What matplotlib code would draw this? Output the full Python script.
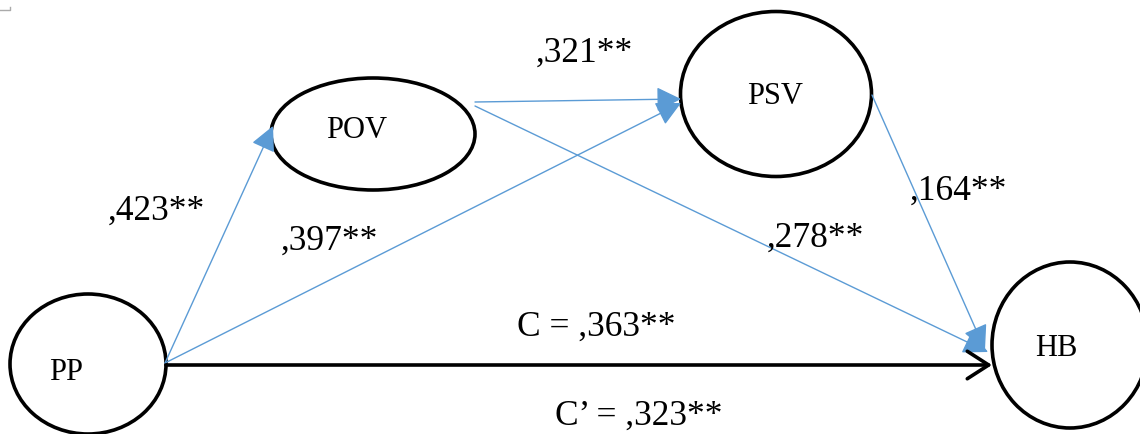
import matplotlib.pyplot as plt
from matplotlib.patches import Ellipse

# ── data ────────────────────────────────────────
nodes = ["PP", "POV", "PSV", "HB"]
paths = [("PP", "POV"), ("PP", "PSV"), ("POV", "PSV"), ("POV", "HB"), ("PSV", "HB")]
coefs = [",423**", ",397**", ",321**", ",278**", ",164**"]
total_label = "C = ,363**"
direct_label = "C\u2019 = ,323**"

# ── layout (pixel coords, y down) ───────────────
ell = {  # center x, center y, width, height
    "PP": (88, 364, 156, 140),
    "POV": (373, 134, 204, 112),
    "PSV": (776, 94, 191, 165),
    "HB": (1070, 345, 156, 166),
}
label_pos = {"PP": (66, 372), "POV": (357, 131), "PSV": (775, 96), "HB": (1056, 349)}
ends = {
    ("PP", "POV"): ((165, 363), (273, 126)),
    ("PP", "PSV"): ((165, 363), (681, 103)),
    ("POV", "PSV"): ((475, 102), (681, 99)),
    ("POV", "HB"): ((475, 106), (988, 352)),
    ("PSV", "HB"): ((872, 95), (985, 350)),
}
coef_pos = [(156, 211), (329, 241), (584, 53), (815, 238), (958, 191)]
blue = "#5B9BD5"
serif = ["Liberation Serif", "DejaVu Serif"]

fig = plt.figure(figsize=(11.4, 4.34), dpi=100)
ax = fig.add_axes([0, 0, 1, 1])
ax.set_xlim(0, 1140)
ax.set_ylim(434, 0)
ax.axis("off")

for n in nodes:
    cx, cy, w, h = ell[n]
    ax.add_patch(Ellipse((cx, cy), w, h, fill=False, ec="black", lw=2.6))
    ax.text(*label_pos[n], n, fontsize=22, family=serif, ha="center", va="center")

for p, c, pos in zip(paths, coefs, coef_pos):
    a, b = ends[p]
    ax.annotate("", xy=b, xytext=a,
                arrowprops=dict(arrowstyle="-|>,head_length=0.9,head_width=0.45",
                                color=blue, lw=1.0, shrinkA=0, shrinkB=0,
                                mutation_scale=17))
    ax.text(*pos, c, fontsize=25.5, family=serif, ha="center", va="center")

# direct effect PP -> HB
ax.annotate("", xy=(992, 365), xytext=(166, 365),
            arrowprops=dict(arrowstyle="->,head_length=0.7,head_width=0.45",
                            color="black", lw=2.6, shrinkA=0, shrinkB=0,
                            mutation_scale=22))
ax.text(596, 327, total_label, fontsize=25.5, family=serif, ha="center", va="center")
ax.text(639, 416, direct_label, fontsize=25.5, family=serif, ha="center", va="center")

# small corner mark
ax.plot([0, 10, 10], [10, 10, 7], color="#aaaaaa", lw=1)

fig.savefig("out.png", dpi=100)
